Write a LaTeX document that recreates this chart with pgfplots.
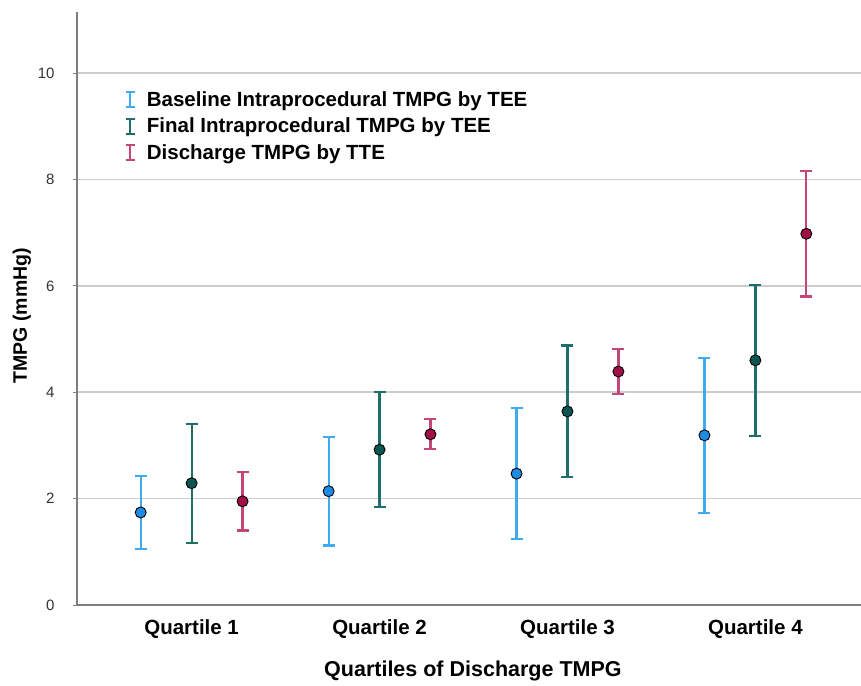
\documentclass[border=0pt]{standalone}
\usepackage{fontspec}
\setmainfont{Liberation Sans}
\usepackage{pgfplots}
\pgfplotsset{compat=1.18}

\definecolor{baseBar}{RGB}{64,170,240}
\definecolor{baseDot}{RGB}{30,140,230}
\definecolor{finBar}{RGB}{30,110,105}
\definecolor{finDot}{RGB}{10,85,80}
\definecolor{disBar}{RGB}{195,70,120}
\definecolor{disDot}{RGB}{160,15,70}
\definecolor{gridgray}{RGB}{205,205,205}
\definecolor{axgray}{RGB}{125,125,125}

\pgfplotsset{
  ebar/.style={
    only marks, mark=*, mark size=5.5pt,
    mark options={draw=black, line width=0.9pt, fill=#1Dot},
    legend image code/.code={
      \draw[draw=#1Bar, line width=2.2pt] (4.5pt,-7.5pt) -- (4.5pt,7.5pt);
      \draw[draw=#1Bar, line width=2pt] (0pt,-7.5pt) -- (9pt,-7.5pt) (0pt,7.5pt) -- (9pt,7.5pt);
      \path (19pt,0pt);},
    /pgfplots/error bars/y dir=both,
    /pgfplots/error bars/y explicit,
    /pgfplots/error bars/error bar style={line width=2.2pt, draw=#1Bar},
    /pgfplots/error bars/error mark options={rotate=90, mark size=6pt, line width=2.2pt, draw=#1Bar},
  },
}

\begin{document}
\begin{tikzpicture}
\useasboundingbox (-77pt,-80pt) rectangle (784pt,605pt);
\begin{axis}[
  scale only axis, width=784pt, height=593pt,
  xmin=0.39, xmax=4.562, ymin=0, ymax=11.15,
  axis x line*=bottom, axis y line*=left,
  axis line style={axgray, line width=1.2pt, -},
  xtick={1,2,3,4},
  xticklabels={Quartile 1,Quartile 2,Quartile 3,Quartile 4},
  xtick style={draw=none},
  ytick={0,2,4,6,8,10},
  ytick style={axgray, line width=0.8pt},
  tick align=outside, major tick length=4pt,
  ymajorgrids, grid style={gridgray, line width=1.6pt},
  /pgf/number format/assume math mode=true,
  yticklabel style={font=\fontsize{15}{18}\selectfont, text=black!80, xshift=-15pt},
  xticklabel style={font=\fontsize{20.5}{24}\selectfont\bfseries, yshift=-7pt},
  xlabel={Quartiles of Discharge TMPG},
  ylabel={TMPG (mmHg)},
  xlabel style={font=\fontsize{21.5}{24}\selectfont\bfseries,
    at={(axis description cs:0.505,0)}, anchor=center, yshift=-66pt},
  ylabel style={font=\fontsize{19.5}{24}\selectfont\bfseries,
    at={(axis description cs:0,0.488)}, anchor=center, yshift=55pt},
  legend style={at={(axis description cs:0.058,0.873)}, anchor=north west,
    draw=none, fill=none, font=\fontsize{20.5}{24}\selectfont\bfseries,
    row sep=6pt, inner sep=2pt},
  legend cell align=left,
  clip=false,
]
\addplot+[ebar=base] coordinates {
  (0.729,1.74) +- (0,0.69)
  (1.729,2.14) +- (0,1.02)
  (2.729,2.47) +- (0,1.23)
  (3.729,3.19) +- (0,1.46)
};
\addlegendentry{Baseline Intraprocedural TMPG by TEE}
\addplot+[ebar=fin] coordinates {
  (1,2.29) +- (0,1.12)
  (2,2.92) +- (0,1.08)
  (3,3.64) +- (0,1.24)
  (4,4.60) +- (0,1.42)
};
\addlegendentry{Final Intraprocedural TMPG by TEE}
\addplot+[ebar=dis] coordinates {
  (1.271,1.95) +- (0,0.55)
  (2.271,3.21) +- (0,0.28)
  (3.271,4.39) +- (0,0.43)
  (4.271,6.98) +- (0,1.18)
};
\addlegendentry{Discharge TMPG by TTE}
\end{axis}
\end{tikzpicture}
\end{document}
